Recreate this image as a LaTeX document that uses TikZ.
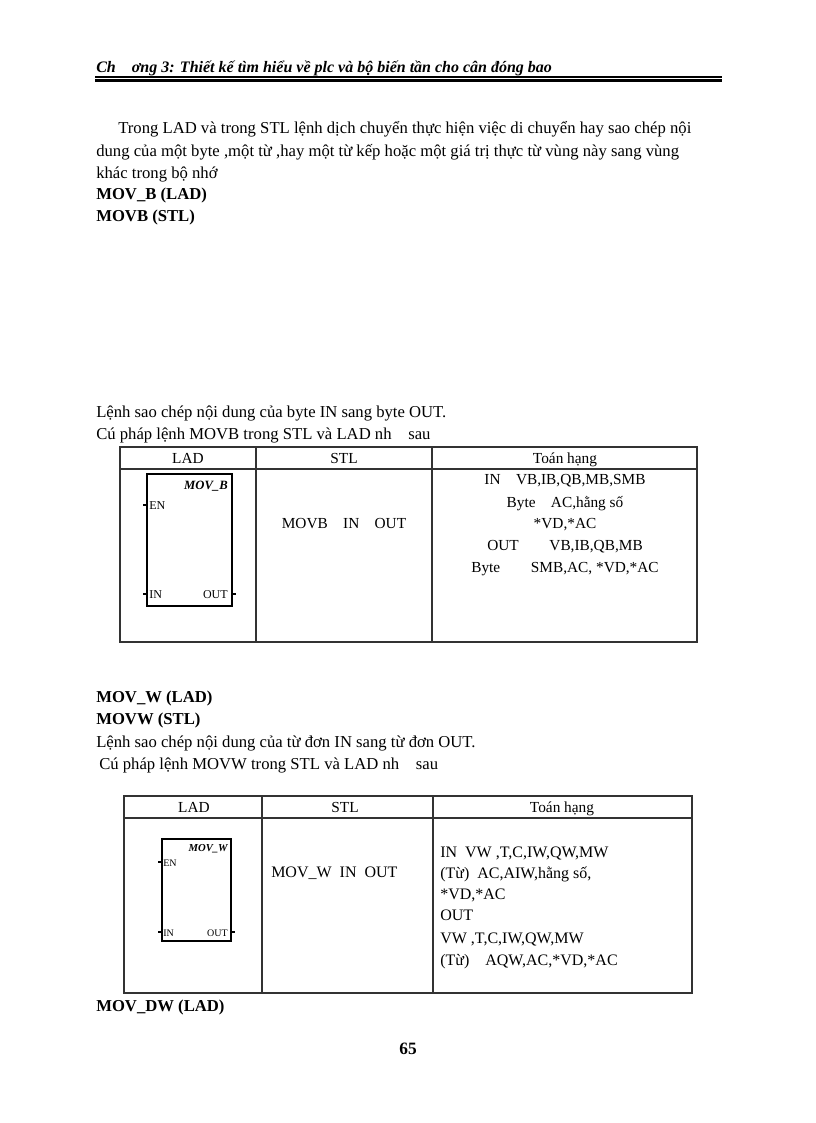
\documentclass[tikz,border=0pt]{standalone}
\usepackage{fontspec}
\setmainfont{Liberation Serif}
\begin{document}
\begin{tikzpicture}[x=0.75pt,y=-0.75pt,
  body/.style={anchor=base west,inner sep=0,font=\fontsize{12.5}{14}\selectfont},
  bbody/.style={body,font=\fontsize{12.5}{14}\selectfont\bfseries},
  cell/.style={anchor=base,inner sep=0,font=\fontsize{11.5}{13}\selectfont},
  cellw/.style={anchor=base west,inner sep=0,font=\fontsize{11.5}{13}\selectfont},
  grid/.style={line width=0.8pt,draw=black!80},
  blk/.style={draw,line width=1.6pt},
  pin/.style={anchor=base west,inner sep=0,font=\fontsize{9}{10}\selectfont},
  pins/.style={anchor=base west,inner sep=0,font=\fontsize{7.5}{9}\selectfont},
  stub/.style={line width=0.8pt}]
\useasboundingbox (0,0) rectangle (816,1123);
% header
\node[anchor=base west,inner sep=0,font=\fontsize{12}{14}\selectfont\bfseries\itshape] (hd) at (96,73) {Ch\quad ơng 3: Thiết kế tìm hiểu về plc và bộ biến tần cho cân đóng bao};
\draw[line width=0.8pt] (95,77) -- (722,77);
\draw[line width=2pt] (95,80.5) -- (722,80.5);
% paragraph
\node[body] (p1) at (118,134) {Trong LAD  và trong STL  lệnh dịch chuyển thực hiện việc di chuyển hay sao chép nội};
\node[body] (p2) at (96,157) {dung của một byte ,một từ ,hay một từ  kếp hoặc một giá trị thực từ vùng này sang vùng};
\node[body] (p3) at (96,179) {khác trong bộ nhớ};
\node[bbody] (h1) at (96,200) {MOV\_B (LAD)};
\node[bbody] (h2) at (96,222) {MOVB (STL)};
\node[body] (p4) at (96,417) {Lệnh sao chép nội dung của byte IN sang byte OUT.};
\node[body] (p5) at (96,439) {Cú pháp lệnh MOVB trong STL và LAD nh\quad sau};
% table 1
\draw[grid] (120,447) rectangle (697,642);
\draw[grid] (120,469) -- (697,469);
\draw[grid] (256,447) -- (256,642);
\draw[grid] (432,447) -- (432,642);
\node[cell] (t1a) at (188,463) {LAD};
\node[cell] (t1b) at (344,463) {STL};
\node[cell] (t1c) at (565,463) {Toán hạng};
\node[blk,minimum width=85*0.75pt,minimum height=132*0.75pt,inner sep=0,anchor=north west] (b1) at (146,473) {};
\node[anchor=base east,inner sep=0,font=\fontsize{9.5}{10}\selectfont\bfseries\itshape] (b1t) at (228,489) {MOV\_B};
\node[pin] (b1en) at (149,509) {EN};
\node[pin] (b1in) at (149,598) {IN};
\node[pin,anchor=base east] (b1out) at (228,598) {OUT};
\draw[stub] (b1.west |- 0,505) -- ++(-3,0);
\draw[stub] (b1.west |- 0,594) -- ++(-3,0);
\draw[stub] (b1.east |- 0,594) -- ++(3,0);
\node[cell] (s1) at (344,528) {MOVB\quad IN\quad OUT};
\node[cell] (o1) at (565,484) {IN\quad VB,IB,QB,MB,SMB};
\node[cell] (o2) at (565,507) {Byte\quad AC,hằng số};
\node[cell] (o3) at (565,528) {*VD,*AC};
\node[cell] (o4) at (565,550) {OUT\qquad VB,IB,QB,MB};
\node[cell] (o5) at (565,572) {Byte\qquad SMB,AC,  *VD,*AC};
% section 2
\node[bbody] (h3) at (96,702) {MOV\_W (LAD)};
\node[bbody] (h4) at (96,724) {MOVW (STL)};
\node[body] (p6) at (96,747) {Lệnh sao chép nội dung của từ đơn IN sang từ đơn  OUT.};
\node[body] (p7) at (99,769) {Cú pháp lệnh MOVW trong STL và LAD nh\quad sau};
% table 2
\draw[grid] (124,796) rectangle (692,993);
\draw[grid] (124,818) -- (692,818);
\draw[grid] (262,796) -- (262,993);
\draw[grid] (433,796) -- (433,993);
\node[cell] (t2a) at (194,812) {LAD};
\node[cell] (t2b) at (345,812) {STL};
\node[cell] (t2c) at (562,812) {Toán hạng};
\node[draw,line width=1.3pt,minimum width=69*0.75pt,minimum height=102*0.75pt,inner sep=0,anchor=north west] (b2) at (161,838) {};
\node[anchor=base east,inner sep=0,font=\fontsize{8}{9}\selectfont\bfseries\itshape] (b2t) at (228,851) {MOV\_W};
\node[pins] (b2en) at (163,866) {EN};
\node[pins] (b2in) at (163,936) {IN};
\node[pins,anchor=base east] (b2out) at (228,936) {OUT};
\draw[stub] (b2.west |- 0,862) -- ++(-3,0);
\draw[stub] (b2.west |- 0,932) -- ++(-3,0);
\draw[stub] (b2.east |- 0,932) -- ++(3,0);
\node[cellw,font=\fontsize{12}{13}\selectfont] (s2) at (271,877) {MOV\_W\enspace IN\enspace OUT};
\node[cellw,font=\fontsize{12}{13}\selectfont] (q1) at (440,857) {IN\enspace VW ,T,C,IW,QW,MW};
\node[cellw,font=\fontsize{12}{13}\selectfont] (q2) at (440,878) {(Từ)\enspace AC,AIW,hằng số,};
\node[cellw,font=\fontsize{12}{13}\selectfont] (q3) at (440,899) {*VD,*AC};
\node[cellw,font=\fontsize{12}{13}\selectfont] (q4) at (440,920) {OUT};
\node[cellw,font=\fontsize{12}{13}\selectfont] (q5) at (440,943) {VW ,T,C,IW,QW,MW};
\node[cellw,font=\fontsize{12}{13}\selectfont] (q6) at (440,965) {(Từ)\quad AQW,AC,*VD,*AC};
\node[bbody] (h5) at (96,1011) {MOV\_DW (LAD)};
\node[anchor=base,inner sep=0,font=\fontsize{13}{14}\selectfont\bfseries] (pg) at (408,1054) {65};
\end{tikzpicture}
\end{document}
